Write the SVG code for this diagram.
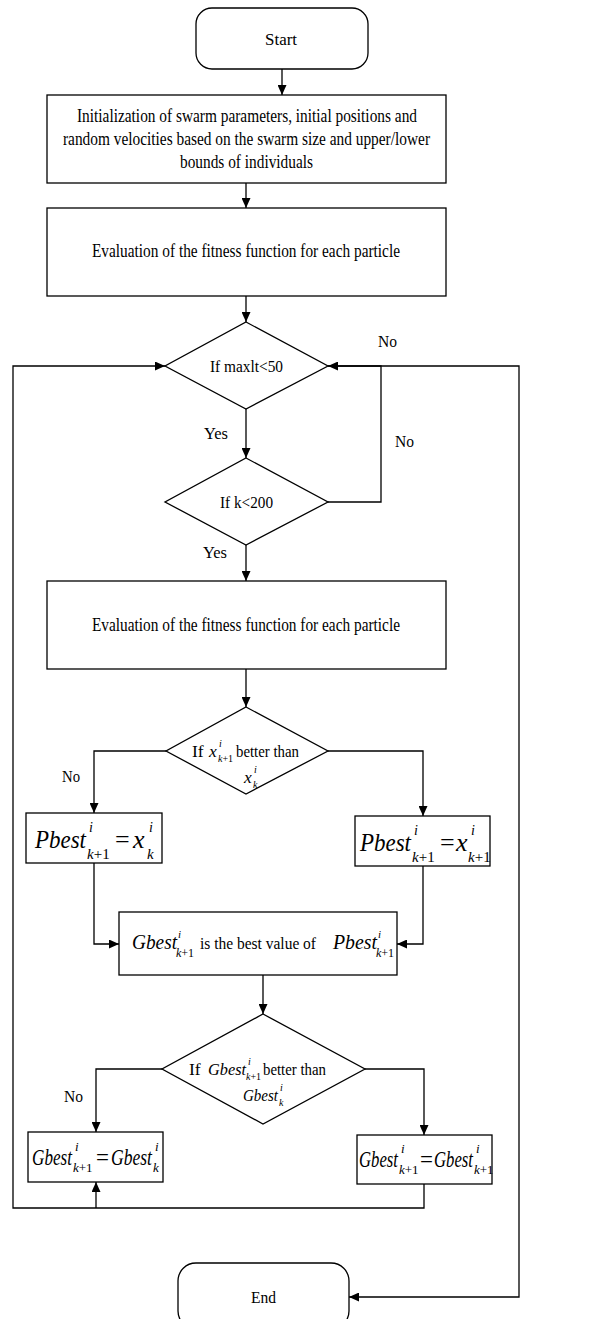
<svg xmlns="http://www.w3.org/2000/svg" width="597" height="1319" viewBox="0 0 597 1319">
<style>
.box{fill:#fff;stroke:#000;stroke-width:1.3}
.ln{fill:none;stroke:#000;stroke-width:1.3}
.t{font-family:"Liberation Serif","Times New Roman",serif;font-size:18.5px;fill:#000}
.s{font-family:"Liberation Serif","Times New Roman",serif;font-size:17.5px;fill:#000}
.m{font-family:"Liberation Serif","Times New Roman",serif;fill:#000}
.i{font-style:italic}
</style>
<defs>
<marker id="ah" markerUnits="userSpaceOnUse" markerWidth="10" markerHeight="9" refX="10" refY="4.5" orient="auto">
<path d="M0,0 L10,4.5 L0,9 z" fill="#000"/>
</marker>
</defs>
<g id="connectors" class="ln" marker-end="url(#ah)">
<path d="M282,69 V95"/>
<path d="M246,183 V208"/>
<path d="M246,296 V322"/>
<path d="M246,409 V458"/>
<path d="M246,545 V581"/>
<path d="M328,502 H381 V366 H328"/>
<path d="M328,366 H519 V1297 H349"/>
<path d="M246,669 V707"/>
<path d="M166,751 H94 V813"/>
<path d="M328,751 H423 V816"/>
<path d="M94,863 V944 H119"/>
<path d="M423,866 V944 H397"/>
<path d="M263,975 V1014"/>
<path d="M162,1069 H96 V1132"/>
<path d="M365,1069 H424 V1135"/>
<path d="M424,1184 V1208 H13 V366 H165"/>
<path d="M96,1208 V1182"/>
</g>
<g id="labels">
<text class="s" x="204" y="439" textLength="24" lengthAdjust="spacingAndGlyphs">Yes</text>
<text class="s" x="203" y="558" textLength="24" lengthAdjust="spacingAndGlyphs">Yes</text>
<text class="s" x="378" y="347" textLength="19" lengthAdjust="spacingAndGlyphs">No</text>
<text class="s" x="395" y="447" textLength="19" lengthAdjust="spacingAndGlyphs">No</text>
<text class="s" x="62" y="782" textLength="18" lengthAdjust="spacingAndGlyphs">No</text>
<text class="s" x="64" y="1102" textLength="19" lengthAdjust="spacingAndGlyphs">No</text>
</g>
<g id="start">
<rect class="box" x="196" y="8" width="172" height="61" rx="16"/>
<text class="s" x="265" y="45" textLength="32" lengthAdjust="spacingAndGlyphs">Start</text>
</g>
<g id="init">
<rect class="box" x="47" y="95" width="399" height="88"/>
<text class="t" x="77" y="122" textLength="340" lengthAdjust="spacingAndGlyphs">Initialization of swarm parameters, initial positions and</text>
<text class="t" x="63" y="145" textLength="367" lengthAdjust="spacingAndGlyphs">random velocities based on the swarm size and upper/lower</text>
<text class="t" x="180" y="168" textLength="133" lengthAdjust="spacingAndGlyphs">bounds of individuals</text>
</g>
<g id="eval1">
<rect class="box" x="47" y="208" width="399" height="88"/>
<text class="t" x="92" y="257" textLength="308" lengthAdjust="spacingAndGlyphs">Evaluation of the fitness function for each particle</text>
</g>
<g id="d1">
<polygon class="box" points="246,322 328,366 246,409 165,366"/>
<text class="s" x="210" y="372" textLength="73" lengthAdjust="spacingAndGlyphs">If maxlt&lt;50</text>
</g>
<g id="d2">
<polygon class="box" points="246,458 328,502 246,545 165,502"/>
<text class="s" x="220" y="508" textLength="53" lengthAdjust="spacingAndGlyphs">If k&lt;200</text>
</g>
<g id="eval2">
<rect class="box" x="47" y="581" width="399" height="88"/>
<text class="t" x="92" y="631" textLength="308" lengthAdjust="spacingAndGlyphs">Evaluation of the fitness function for each particle</text>
</g>
<g id="d3">
<polygon class="box" points="246,707 328,751 246,794 166,751"/>
<text class="m" font-size="17.5"><tspan x="192" y="757">If</tspan><tspan class="i" x="209" y="757">x</tspan><tspan class="i" font-size="10" x="219" y="747">i</tspan><tspan class="i" font-size="10" x="218" y="762">k</tspan><tspan font-size="10">+1</tspan><tspan x="236" y="757" textLength="63" lengthAdjust="spacingAndGlyphs">better than</tspan></text>
<text class="m" font-size="17.5"><tspan class="i" x="244" y="783">x</tspan><tspan class="i" font-size="10" x="254" y="773">i</tspan><tspan class="i" font-size="10" x="253" y="788">k</tspan></text>
</g>
<g id="pbest-left">
<rect class="box" x="26" y="813" width="136" height="50"/>
<text class="m" font-size="26"><tspan class="i" x="35" y="848" textLength="51" lengthAdjust="spacingAndGlyphs">Pbest</tspan><tspan class="i" font-size="14" x="89" y="832">i</tspan><tspan class="i" font-size="15" x="87" y="859">k</tspan><tspan font-size="15">+1</tspan><tspan x="115" y="848">=</tspan><tspan class="i" x="133" y="848">x</tspan><tspan class="i" font-size="14" x="149" y="832">i</tspan><tspan class="i" font-size="15" x="147" y="859">k</tspan></text>
</g>
<g id="pbest-right">
<rect class="box" x="355" y="816" width="135" height="50"/>
<text class="m" font-size="26"><tspan class="i" x="360" y="851" textLength="51" lengthAdjust="spacingAndGlyphs">Pbest</tspan><tspan class="i" font-size="14" x="414" y="835">i</tspan><tspan class="i" font-size="15" x="412" y="862">k</tspan><tspan font-size="15">+1</tspan><tspan x="440" y="851">=</tspan><tspan class="i" x="456" y="851">x</tspan><tspan class="i" font-size="14" x="471" y="835">i</tspan><tspan class="i" font-size="15" x="468" y="862">k</tspan><tspan font-size="15">+1</tspan></text>
</g>
<g id="gbest-mid">
<rect class="box" x="119" y="912" width="278" height="63"/>
<text class="m" font-size="20"><tspan class="i" x="132" y="949" textLength="45" lengthAdjust="spacingAndGlyphs">Gbest</tspan><tspan class="i" font-size="11" x="178" y="938">i</tspan><tspan class="i" font-size="12" x="176" y="957">k</tspan><tspan font-size="12">+1</tspan><tspan font-size="17.5" x="200" y="949" textLength="116" lengthAdjust="spacingAndGlyphs">is the best value of</tspan><tspan class="i" x="333" y="949" textLength="44" lengthAdjust="spacingAndGlyphs">Pbest</tspan><tspan class="i" font-size="11" x="378" y="938">i</tspan><tspan class="i" font-size="12" x="376" y="957">k</tspan><tspan font-size="12">+1</tspan></text>
</g>
<g id="d4">
<polygon class="box" points="263,1014 365,1069 263,1124 162,1069"/>
<text class="m" font-size="17.5"><tspan x="189" y="1075">If</tspan><tspan class="i" x="208" y="1075" textLength="38" lengthAdjust="spacingAndGlyphs">Gbest</tspan><tspan class="i" font-size="10" x="248" y="1065">i</tspan><tspan class="i" font-size="10" x="246" y="1080">k</tspan><tspan font-size="10">+1</tspan><tspan x="263" y="1075" textLength="63" lengthAdjust="spacingAndGlyphs">better than</tspan></text>
<text class="m" font-size="17.5"><tspan class="i" x="243" y="1101" textLength="35" lengthAdjust="spacingAndGlyphs">Gbest</tspan><tspan class="i" font-size="10" x="280" y="1091">i</tspan><tspan class="i" font-size="10" x="279" y="1106">k</tspan></text>
</g>
<g id="gbest-left">
<rect class="box" x="28" y="1132" width="135" height="50"/>
<text class="m" font-size="23"><tspan class="i" x="32" y="1165" textLength="40" lengthAdjust="spacingAndGlyphs">Gbest</tspan><tspan class="i" font-size="13" x="75" y="1151">i</tspan><tspan class="i" font-size="13" x="73" y="1172">k</tspan><tspan font-size="13">+1</tspan><tspan x="96" y="1165">=</tspan><tspan class="i" x="111" y="1165" textLength="41" lengthAdjust="spacingAndGlyphs">Gbest</tspan><tspan class="i" font-size="13" x="155" y="1151">i</tspan><tspan class="i" font-size="13" x="153" y="1172">k</tspan></text>
</g>
<g id="gbest-right">
<rect class="box" x="357" y="1135" width="135" height="49"/>
<text class="m" font-size="23"><tspan class="i" x="359" y="1167" textLength="39" lengthAdjust="spacingAndGlyphs">Gbest</tspan><tspan class="i" font-size="13" x="401" y="1153">i</tspan><tspan class="i" font-size="13" x="399" y="1174">k</tspan><tspan font-size="13">+1</tspan><tspan x="420" y="1167">=</tspan><tspan class="i" x="434" y="1167" textLength="39" lengthAdjust="spacingAndGlyphs">Gbest</tspan><tspan class="i" font-size="13" x="476" y="1153">i</tspan><tspan class="i" font-size="13" x="474" y="1174">k</tspan><tspan font-size="13">+1</tspan></text>
</g>
<g id="end">
<rect class="box" x="178" y="1263" width="171" height="66" rx="18"/>
<text class="s" x="251" y="1303" textLength="25" lengthAdjust="spacingAndGlyphs">End</text>
</g>
</svg>
